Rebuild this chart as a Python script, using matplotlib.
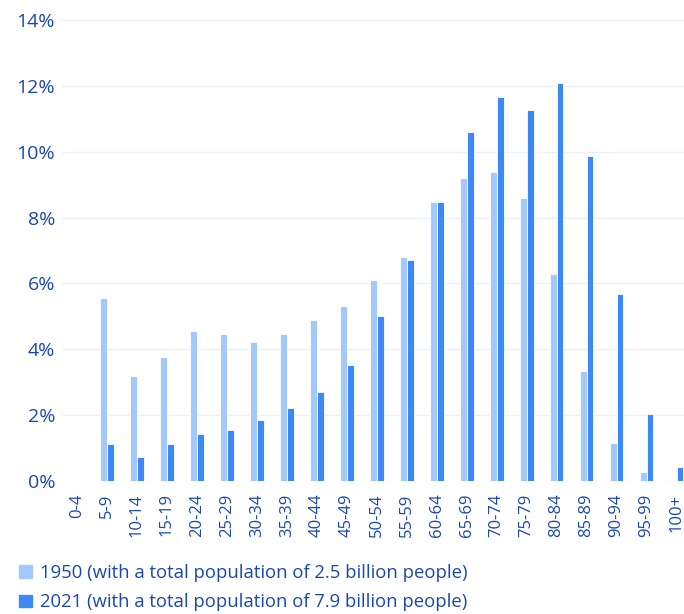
import matplotlib
matplotlib.use("Agg")
import matplotlib.pyplot as plt
import numpy as np
from matplotlib.patches import Patch

age_groups = ["0-4", "5-9", "10-14", "15-19", "20-24", "25-29", "30-34", "35-39",
              "40-44", "45-49", "50-54", "55-59", "60-64", "65-69", "70-74",
              "75-79", "80-84", "85-89", "90-94", "95-99", "100+"]

# share of deaths by age group (%)
share_1950 = [0, 5.56, 3.19, 3.77, 4.55, 4.46, 4.22, 4.46, 4.89, 5.31, 6.1,
              6.8, 8.47, 9.2, 9.38, 8.6, 6.29, 3.34, 1.15, 0.27, 0.03]
share_2021 = [0, 1.12, 0.73, 1.12, 1.43, 1.55, 1.85, 2.22, 2.7, 3.52, 5.01,
              6.71, 8.47, 10.6, 11.66, 11.27, 12.09, 9.87, 5.68, 2.03, 0.42]

labels = ["1950 (with a total population of 2.5 billion people)",
          "2021 (with a total population of 7.9 billion people)"]

light = "#a3c9fb"
dark = "#3e88f4"
text_col = "#1a47b6"
grid_col = "#eaf1fc"

plt.rcParams["font.family"] = ["Open Sans", "DejaVu Sans"]

fig = plt.figure(figsize=(6.84, 6.14), dpi=100)
ax = fig.add_axes([62 / 684, 1 - 481 / 614, 1 - 62 / 684, 461 / 614])

x = np.arange(len(age_groups))
w = 0.23
ax.bar(x - w / 2, share_1950, width=w, color=light, edgecolor="white", linewidth=0.6, zorder=2)
ax.bar(x + w / 2, share_2021, width=w, color=dark, edgecolor="white", linewidth=0.6, zorder=2)

ax.set_ylim(0, 14)
ax.set_xlim(-0.5, 20.25)
ax.set_yticks(np.arange(0, 15, 2))
ax.set_yticklabels([f"{v}%" for v in range(0, 15, 2)])
ax.set_xticks(x)
ax.set_xticklabels(age_groups, rotation=90)
ax.tick_params(axis="y", length=0, pad=5, labelsize=14, labelcolor=text_col)
ax.tick_params(axis="x", length=0, pad=9, labelsize=12, labelcolor=text_col)
ax.grid(axis="y", color=grid_col, linewidth=1, zorder=0)
for s in ax.spines.values():
    s.set_visible(False)

handles = [Patch(color=light), Patch(color=dark)]
fig.legend(handles, labels, loc="lower left", bbox_to_anchor=(0.003, -0.023),
           frameon=False, fontsize=13.3, labelcolor=text_col,
           handlelength=0.7, handleheight=0.7, handletextpad=0.45, labelspacing=0.62)

fig.savefig("out.png", dpi=100)
